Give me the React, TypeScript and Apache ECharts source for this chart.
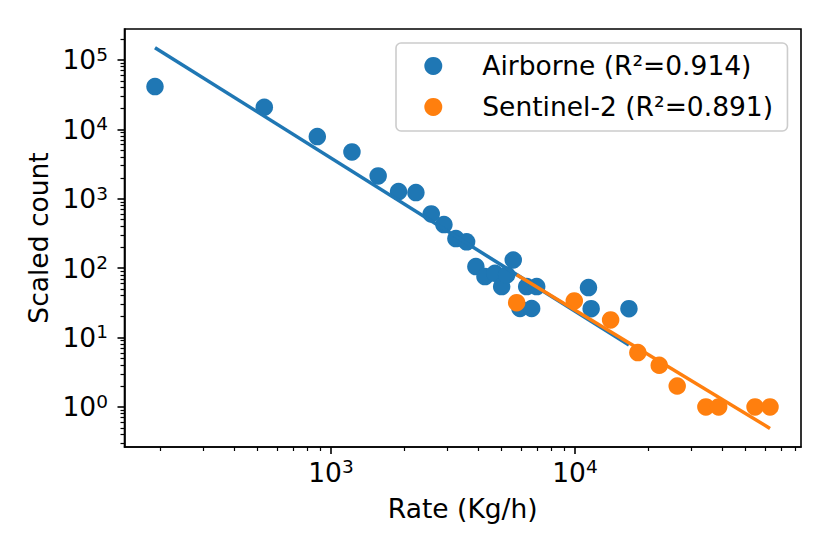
import React, { useEffect, useRef } from 'react';
import * as echarts from 'echarts';

// ---- data ----
const airborneRate = [190, 533, 879, 1219, 1561, 1892, 2229, 2576, 2904, 3251, 3597, 3925, 4276, 4699, 5007, 5250, 5585, 5952, 6340, 6645, 6970, 11360, 11650, 16640];
const airborneCount = [41200, 20800, 7850, 4720, 2130, 1265, 1224, 604, 424, 266, 239, 105, 75.4, 84.4, 54.1, 79.8, 131, 26.2, 54.1, 26.2, 54.1, 52.4, 26.0, 26.0];

const sentinelRate = [5768, 9935, 14000, 18100, 22150, 26240, 34400, 38800, 54700, 63000];
const sentinelCount = [31.8, 33.7, 17.9, 6.06, 3.98, 2.0, 1, 1, 1, 1];

// fitted lines (end points)
const airborneFitRate = [190, 16640];
const airborneFitCount = [150000, 7.8];
const sentinelFitRate = [5768, 63000];
const sentinelFitCount = [80, 0.49];

const airborneName = 'Airborne (R²=0.914)';
const sentinelName = 'Sentinel-2 (R²=0.891)';

// axes
const xRange = [142.5, 84400];
const yRange = [0.2644, 278600];
const xMajorTicks = [1000, 10000];
const xMinorTicks = [200, 300, 400, 500, 600, 700, 800, 900, 2000, 3000, 4000, 5000, 6000, 7000, 8000, 9000, 20000, 30000, 40000, 50000, 60000, 70000, 80000];
const yMajorTicks = [1, 10, 100, 1000, 10000, 100000];
const yMinorTicks = [
  0.3, 0.4, 0.5, 0.6, 0.7, 0.8, 0.9,
  2, 3, 4, 5, 6, 7, 8, 9,
  20, 30, 40, 50, 60, 70, 80, 90,
  200, 300, 400, 500, 600, 700, 800, 900,
  2000, 3000, 4000, 5000, 6000, 7000, 8000, 9000,
  20000, 30000, 40000, 50000, 60000, 70000, 80000, 90000,
  200000,
];

const BLUE = '#1f77b4';
const ORANGE = '#ff7f0e';
const FONT = 'DejaVu Sans';
const FS = 26.5;

const zip = (a: number[], b: number[]) => a.map((v, i) => [v, b[i]]);

const powLabel = (v: number) => `{b|10}{s|${Math.round(Math.log10(v))}}`;
const powRich = {
  b: { fontFamily: FONT, fontSize: FS, color: '#000', lineHeight: 30 },
  s: { fontFamily: FONT, fontSize: 18.5, color: '#000', lineHeight: 15, verticalAlign: 'top' },
};

export default function App() {
  const ref = useRef<HTMLDivElement>(null);
  useEffect(() => {
    if (!ref.current) return;
    const chart = echarts.init(ref.current, undefined, { renderer: 'svg' });
    const tickLine = { color: '#000', width: 1.6 };
    const minorLine = { color: '#000', width: 1.2 };
    chart.setOption({
      animation: false,
      backgroundColor: '#fff',
      grid: {
        left: 124.5, right: 29, top: 29, bottom: 107,
        show: true, borderColor: '#000', borderWidth: 1.6, backgroundColor: 'transparent',
      },
      legend: {
        orient: 'vertical',
        left: 396, top: 43,
        data: [{ name: airborneName, icon: 'circle' }, { name: sentinelName, icon: 'circle' }],
        itemWidth: 18, itemHeight: 18, itemGap: 14,
        padding: [9.4, 14.4, 10.6, 28.3],
        backgroundColor: 'rgba(255,255,255,0.8)',
        borderColor: '#cccccc', borderWidth: 1.6, borderRadius: 5,
        selectedMode: false,
        formatter: (name: string) => `{t|${name}}`,
        textStyle: {
          rich: { t: { fontFamily: FONT, fontSize: FS, color: '#000', lineHeight: 18, padding: [0, 0, 0, 35] } },
        },
      },
      xAxis: [
        {
          type: 'log', logBase: 10, min: xRange[0], max: xRange[1], position: 'bottom',
          name: 'Rate (Kg/h)', nameLocation: 'middle', nameGap: 48,
          nameTextStyle: { fontFamily: FONT, fontSize: FS, color: '#000', lineHeight: FS },
          axisLine: { show: true, onZero: false, lineStyle: tickLine },
          axisTick: { show: true, length: 7, lineStyle: tickLine, customValues: xMajorTicks },
          axisLabel: { show: true, customValues: xMajorTicks, formatter: powLabel, rich: powRich, margin: 10 },
          splitLine: { show: false },
        },
        {
          type: 'log', logBase: 10, min: xRange[0], max: xRange[1], position: 'bottom',
          axisLine: { show: false },
          axisTick: { show: true, length: 4, lineStyle: minorLine, customValues: xMinorTicks },
          axisLabel: { show: false },
          splitLine: { show: false },
        },
      ],
      yAxis: [
        {
          type: 'log', logBase: 10, min: yRange[0], max: yRange[1], position: 'left',
          name: 'Scaled count', nameLocation: 'middle', nameGap: 67, nameRotate: 90,
          nameTextStyle: { fontFamily: FONT, fontSize: FS, color: '#000', lineHeight: FS },
          axisLine: { show: true, onZero: false, lineStyle: tickLine },
          axisTick: { show: true, length: 7, lineStyle: tickLine, customValues: yMajorTicks },
          axisLabel: { show: true, customValues: yMajorTicks, formatter: powLabel, rich: powRich, margin: 16.5 },
          splitLine: { show: false },
        },
        {
          type: 'log', logBase: 10, min: yRange[0], max: yRange[1], position: 'left',
          axisLine: { show: false },
          axisTick: { show: true, length: 4, lineStyle: minorLine, customValues: yMinorTicks },
          axisLabel: { show: false },
          splitLine: { show: false },
        },
      ],
      series: [
        {
          name: airborneName, type: 'scatter', xAxisIndex: 0, yAxisIndex: 0,
          data: zip(airborneRate, airborneCount), symbolSize: 17.5,
          itemStyle: { color: BLUE, opacity: 1 },
        },
        {
          name: 'Airborne fit', type: 'line', xAxisIndex: 0, yAxisIndex: 0,
          data: zip(airborneFitRate, airborneFitCount), showSymbol: false, symbol: 'none',
          lineStyle: { color: BLUE, width: 3.5 }, itemStyle: { color: BLUE },
        },
        {
          name: sentinelName, type: 'scatter', xAxisIndex: 0, yAxisIndex: 0,
          data: zip(sentinelRate, sentinelCount), symbolSize: 17.5,
          itemStyle: { color: ORANGE, opacity: 1 },
        },
        {
          name: 'Sentinel-2 fit', type: 'line', xAxisIndex: 0, yAxisIndex: 0,
          data: zip(sentinelFitRate, sentinelFitCount), showSymbol: false, symbol: 'none',
          lineStyle: { color: ORANGE, width: 3.5 }, itemStyle: { color: ORANGE },
        },
      ],
    });
    return () => chart.dispose();
  }, []);
  return <div ref={ref} style={{ position: 'absolute', left: 0, top: 0, width: 830, height: 554 }} />;
}
